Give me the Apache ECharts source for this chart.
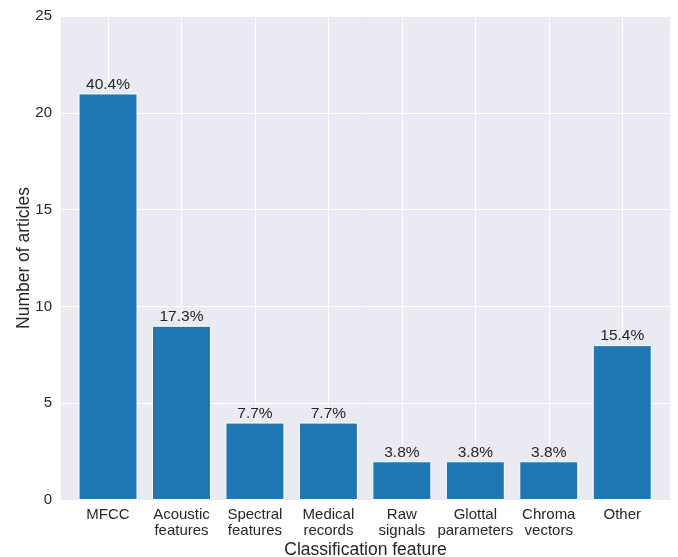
<!DOCTYPE html>
<html>
<head>
<meta charset="utf-8">
<script src="https://cdn.jsdelivr.net/npm/echarts@6/dist/echarts.min.js"></script>
<style>html,body{margin:0;padding:0;background:#fff}#c{width:678px;height:557px}</style>
</head>
<body>
<div id="c"></div>
<script>
var categories = ['MFCC', 'Acoustic\nfeatures', 'Spectral\nfeatures', 'Medical\nrecords', 'Raw\nsignals', 'Glottal\nparameters', 'Chroma\nvectors', 'Other'];
var counts = [21, 9, 4, 4, 2, 2, 2, 8];
var percentLabels = ['40.4%', '17.3%', '7.7%', '7.7%', '3.8%', '3.8%', '3.8%', '15.4%'];
var yTicks = [0, 5, 10, 15, 20, 25];

var positions = categories.map(function (c, i) { return i; });
var font = 'Liberation Sans, Arial, sans-serif';
var txt = '#262626';
var chart = echarts.init(document.getElementById('c'));
chart.setOption({
  animation: false,
  backgroundColor: '#ffffff',
  grid: {left: 61, right: 8, top: 16, bottom: 57, show: true, backgroundColor: '#EAEAF2', borderWidth: 0, containLabel: false, outerBoundsMode: 'none'},
  xAxis: {
    type: 'value', min: -0.64, max: 7.65,
    name: 'Classification feature', nameLocation: 'middle', nameGap: 41, nameMoveOverlap: false,
    nameTextStyle: {fontFamily: font, fontSize: 17.5, color: txt},
    axisLine: {show: false}, axisTick: {show: false},
    axisLabel: {
      fontFamily: font, fontSize: 15, color: txt, margin: 7, lineHeight: 16,
      customValues: positions, showMinLabel: true, showMaxLabel: true,
      formatter: function (v) { return categories[Math.round(v)] || ''; }
    },
    splitLine: {show: false}
  },
  yAxis: {
    type: 'value', min: yTicks[0], max: yTicks[yTicks.length - 1], interval: 5,
    name: 'Number of articles', nameLocation: 'middle', nameGap: 28, nameMoveOverlap: false,
    nameTextStyle: {fontFamily: font, fontSize: 17.5, color: txt},
    axisLine: {show: false}, axisTick: {show: false},
    axisLabel: {fontFamily: font, fontSize: 15, color: txt, margin: 9},
    splitLine: {show: true, lineStyle: {color: '#ffffff', width: 1}}
  },
  series: [
    {
      type: 'line', data: [], z: 1, silent: true,
      markLine: {
        silent: true, symbol: 'none', animation: false, z: 1,
        label: {show: false},
        lineStyle: {color: '#ffffff', width: 1, type: 'solid'},
        data: positions.map(function (p) { return {xAxis: p}; })
      }
    },
    {
      type: 'bar', z: 3, barWidth: 59,
      data: positions.map(function (p, i) { return [p, counts[i]]; }),
      itemStyle: {color: '#1F77B4', borderColor: '#ffffff', borderWidth: 1},
      label: {
        show: true, position: 'top', distance: 1,
        fontFamily: font, fontSize: 15.5, color: txt,
        formatter: function (p) { return percentLabels[p.dataIndex]; }
      }
    }
  ]
});
</script>
</body>
</html>
